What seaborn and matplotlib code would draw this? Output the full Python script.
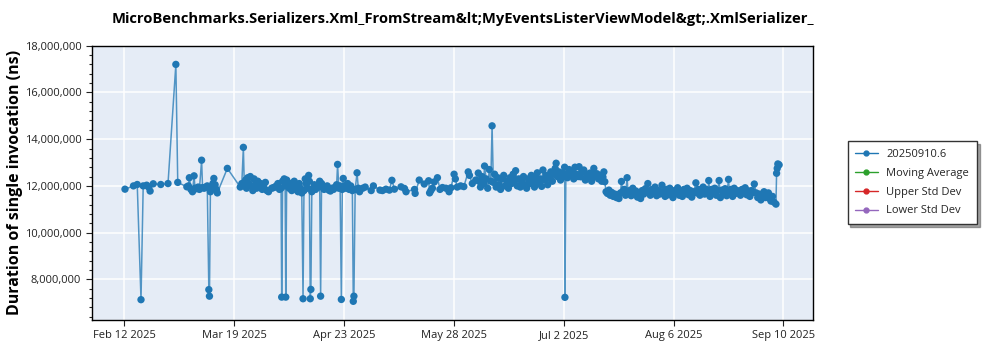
import numpy as np
import pandas as pd
import matplotlib
matplotlib.use('Agg')
import matplotlib.pyplot as plt
import matplotlib.dates as mdates
from matplotlib.ticker import MultipleLocator, FuncFormatter
import seaborn as sns

# day offsets from Feb 12 2025 and durations (millions of ns)
feb_days = [0.3, 3.0, 4.2, 5.4, 6.1, 7.2, 7.8, 8.3, 9.3, 11.7, 14.0, 16.5, 17.1,
            20.0, 20.5, 20.8, 21.3, 21.8, 22.3, 22.6, 23.0, 23.6, 24.0, 24.7, 25.0,
            25.5, 26.0, 26.5, 27.0, 27.2, 27.5, 28.0, 28.3, 28.6, 29.0, 29.4, 29.7, 32.9]
feb_vals = [11.86, 12.0, 12.06, 7.13, 12.0, 12.03, 11.95, 11.78, 12.09, 12.06, 12.1, 17.2, 12.15,
            11.96, 12.0, 12.35, 11.85, 11.75, 12.43, 11.9, 11.88, 11.95, 11.85, 13.1, 11.93,
            11.9, 11.95, 12.0, 7.56, 7.28, 11.75, 11.9, 12.1, 12.32, 12.05, 11.85, 11.7, 12.75]

mar_days = [37.0, 37.5, 38.0, 38.3, 38.7, 39.0, 39.4, 39.8, 40.2, 40.6, 41.0, 41.4, 41.8,
            42.2, 42.6, 43.0, 43.5, 44.0, 44.5, 45.0, 45.5, 46.0, 47.0, 47.5, 48.0, 48.5,
            49.0, 49.5, 50.0, 50.2, 50.5, 51.0, 51.3, 51.5, 51.8, 52.2, 52.6, 53.0, 53.4,
            53.8, 54.2, 54.6, 55.0, 55.4, 55.8, 56.2, 56.6, 57.0, 57.3, 57.7, 58.0, 58.4,
            58.8, 59.0, 59.3, 59.5, 59.8, 60.2, 60.6, 61.0, 61.5, 62.0, 62.3, 62.6, 62.9,
            63.3, 63.7, 64.2, 64.7, 65.2, 65.7, 66.2, 66.7, 67.2, 67.7, 68.0, 68.4, 68.8,
            69.2, 69.5, 69.8, 70.2, 70.7, 71.2, 71.7, 72.2, 72.7, 73.0, 73.2, 73.6, 74.2, 74.6]
mar_vals = [11.95, 12.1, 13.65, 12.0, 12.25, 11.9, 12.35, 12.1, 12.4, 12.0, 11.8, 12.3, 12.05,
            11.9, 12.2, 11.95, 12.1, 11.85, 11.95, 12.15, 11.8, 11.75, 11.9, 11.92, 11.95, 12.0,
            12.1, 11.85, 11.9, 7.24, 12.2, 12.3, 12.0, 7.24, 12.25, 12.0, 11.9, 12.1, 11.8,
            11.95, 12.2, 11.85, 12.0, 11.75, 12.1, 11.9, 11.7, 7.17, 11.8, 12.3, 12.1, 11.9,
            12.45, 12.2, 7.17, 7.57, 11.75, 11.9, 12.05, 11.85, 12.0, 11.95, 12.2, 7.28, 12.1,
            12.0, 11.85, 11.9, 12.0, 11.82, 11.78, 11.9, 11.85, 11.95, 12.05, 12.92, 11.9, 12.0,
            7.14, 11.85, 12.32, 12.0, 11.9, 12.1, 11.85, 12.0, 11.8, 7.06, 7.28, 11.85, 12.56, 11.9]

may_days = [75.0, 76.0, 76.8, 78.7, 79.4, 81.5, 82.3, 83.4, 84.5, 85.3, 86.1, 88.2, 89.3,
            89.8, 92.5, 92.7, 94.0, 95.6, 97.0, 97.3, 97.7, 98.2, 98.8, 99.8, 100.6, 101.4,
            102.5, 103.5, 104.1, 105.1, 105.5, 106.1, 107.2, 108.2, 109.6, 110.0, 110.9, 112.0, 112.8]
may_vals = [11.75, 11.9, 11.95, 11.8, 12.0, 11.82, 11.8, 11.86, 11.82, 12.24, 11.86, 11.96, 11.89,
            11.75, 11.85, 11.68, 12.25, 12.08, 12.22, 11.7, 11.8, 11.9, 12.17, 12.35, 11.85, 11.93,
            11.9, 11.75, 11.92, 12.5, 12.3, 11.95, 12.0, 11.97, 12.6, 12.45, 12.1, 12.25, 12.55]

jun_days = [113.0, 113.5, 114.0, 114.5, 114.8, 115.3, 115.8, 116.3, 116.8, 117.2, 117.6, 118.0,
            118.5, 119.0, 119.5, 119.9, 120.4, 120.9, 121.4, 121.9, 122.4, 122.9, 123.4, 123.9,
            124.4, 124.7, 125.2, 125.7, 126.2, 126.7, 127.2, 127.7, 128.2, 128.7, 129.2, 129.7,
            130.2, 130.7, 131.2, 131.6, 132.1, 132.6, 133.0, 133.4, 133.9, 134.4, 134.9, 135.4,
            135.9, 136.4, 136.9, 137.3, 137.6, 138.0, 138.5, 139.0, 139.5, 140.0, 140.3, 140.4,
            140.7, 141.2, 141.7, 142.2, 142.7, 143.2, 143.6, 144.1, 144.6, 144.9, 145.4, 145.9,
            146.4, 146.9, 147.4, 147.9, 148.4, 148.9, 149.3, 149.6, 150.1, 150.6, 151.1, 151.6,
            152.1, 152.5, 152.8, 153.1]
jun_vals = [12.2, 11.95, 12.4, 12.1, 12.85, 12.3, 11.9, 12.7, 12.2, 14.57, 12.15, 12.5,
            11.95, 12.35, 12.05, 11.85, 12.3, 12.45, 12.0, 12.2, 11.9, 12.35, 12.1, 12.5,
            12.25, 12.65, 12.0, 12.3, 11.95, 12.15, 12.4, 12.05, 11.9, 12.3, 12.1, 12.45,
            12.2, 11.95, 12.35, 12.56, 12.1, 12.3, 11.98, 12.68, 12.25, 12.45, 12.05, 12.35,
            12.6, 12.2, 12.5, 12.75, 12.97, 12.4, 12.6, 12.25, 12.55, 12.4, 12.8, 7.23,
            12.5, 12.35, 12.7, 12.45, 12.6, 12.3, 12.8, 12.5, 12.4, 12.82, 12.39, 12.6,
            12.68, 12.25, 12.5, 12.35, 12.55, 12.2, 12.45, 12.75, 12.4, 12.52, 12.3, 12.45,
            12.2, 12.38, 12.6, 12.18]

jul_days = [153.5, 153.9, 154.4, 154.8, 155.3, 155.8, 156.3, 156.8, 157.3, 157.6, 158.1, 158.4,
            158.8, 159.3, 159.7, 160.2, 160.5, 161.0, 161.5, 162.0, 162.5, 163.0, 163.5, 164.0,
            164.5, 165.0, 165.5, 166.0, 166.8, 167.1, 167.6, 168.1, 168.6, 169.1, 169.6, 170.1,
            170.6, 171.3, 171.8, 172.3, 172.8, 173.3, 173.8, 174.3, 174.8, 175.3, 175.8, 176.3,
            176.8, 177.3, 177.8, 178.3, 178.8, 179.3, 179.8, 180.3, 180.8, 181.4, 182.1, 182.4,
            182.9, 183.4, 183.9, 184.4, 184.9, 185.4, 185.9, 186.2, 186.6, 187.1, 187.6, 188.1,
            188.6, 189.0, 189.5, 189.9, 190.4, 190.9, 191.4, 191.9, 192.5, 192.8, 193.3, 193.8,
            194.3, 194.8, 195.3, 195.8, 196.3, 196.8, 197.3, 197.8, 198.3, 198.8, 199.3, 199.8,
            200.3, 200.7, 201.3, 201.8, 202.3, 202.8, 203.3, 203.8, 204.3, 204.8, 205.2, 205.6,
            206.0, 206.5, 207.0, 207.6, 207.8, 208.0, 208.2, 208.6]
jul_vals = [11.75, 11.68, 11.82, 11.6, 11.72, 11.55, 11.65, 11.5, 11.62, 11.46, 11.7, 12.19,
            11.75, 11.85, 11.6, 12.35, 11.7, 11.8, 11.58, 11.9, 11.68, 11.78, 11.52, 11.7,
            11.46, 11.8, 11.65, 11.88, 12.1, 11.75, 11.6, 11.85, 11.7, 11.95, 11.58, 11.8,
            11.65, 12.03, 11.75, 11.55, 11.85, 11.62, 11.9, 11.7, 11.5, 11.8, 11.68, 11.92,
            11.6, 11.75, 11.55, 11.85, 11.7, 11.9, 11.62, 11.8, 11.52, 11.75, 12.13, 11.7,
            11.85, 11.6, 11.78, 11.95, 11.65, 11.85, 11.72, 12.23, 11.55, 11.85, 11.68, 11.9,
            11.6, 11.8, 12.23, 11.5, 11.82, 11.65, 11.88, 11.58, 12.28, 11.7, 11.85, 11.55,
            11.9, 11.68, 11.8, 11.75, 11.6, 11.85, 11.7, 11.92, 11.62, 11.78, 11.55, 11.8,
            11.72, 12.08, 11.7, 11.5, 11.65, 11.4, 11.6, 11.75, 11.5, 11.62, 11.7, 11.46,
            11.35, 11.55, 11.3, 11.22, 12.54, 12.75, 12.94, 12.9]

xtick_dates = ['2025-02-12', '2025-03-19', '2025-04-23', '2025-05-28',
               '2025-07-02', '2025-08-06', '2025-09-10']
series_names = ['20250910.6', 'Moving Average', 'Upper Std Dev', 'Lower Std Dev']
series_colors = ['#1f77b4', '#2ca02c', '#d62728', '#9467bd']

start = pd.Timestamp('2025-02-12')
days = np.concatenate([feb_days, mar_days, may_days, jun_days, jul_days])
vals = np.concatenate([feb_vals, mar_vals, may_vals, jun_vals, jul_vals]) * 1e6
df = pd.DataFrame({'date': start + pd.to_timedelta(days, unit='D'), 'ns': vals})

sns.set_style('darkgrid', {'axes.facecolor': '#E5ECF6', 'grid.color': 'white',
                           'axes.edgecolor': 'black'})
plt.rcParams['font.family'] = ['Open Sans', 'DejaVu Sans']

fig = plt.figure(figsize=(10, 3.5), dpi=100)
ax = fig.add_axes([0.0917, 0.0857, 0.721, 0.7837])

sns.lineplot(data=df, x='date', y='ns', ax=ax, color=series_colors[0], lw=1.1,
             alpha=0.75, estimator=None, sort=True)
sns.scatterplot(data=df, x='date', y='ns', ax=ax, color=series_colors[0], s=28,
                edgecolor='none', zorder=3)

ax.set_xlim(start - pd.Timedelta(days=10.3), start + pd.Timedelta(days=219.3))
ax.set_ylim(6.26e6, 18e6)

ax.set_xticks(pd.to_datetime(xtick_dates))
ax.xaxis.set_major_formatter(mdates.DateFormatter('%b %-d %Y'))
ax.yaxis.set_major_locator(MultipleLocator(2e6))
ax.yaxis.set_minor_locator(MultipleLocator(4e5))
ax.yaxis.set_major_formatter(FuncFormatter(lambda v, p: f'{v:,.0f}'))
ax.grid(True, which='major', color='white', lw=1.1)
ax.grid(False, which='minor')
ax.tick_params(axis='both', which='major', labelsize=8, colors='#222222', length=4,
               width=0.8, direction='out', left=True, bottom=True)
ax.tick_params(axis='y', which='minor', length=2.5, width=0.8, left=True)
ax.set_xlabel('')
ax.set_ylabel('')
for s in ax.spines.values():
    s.set_visible(True)
    s.set_color('black')
    s.set_linewidth(1)

fig.text(0.463, 0.946, 'MicroBenchmarks.Serializers.Xml_FromStream&lt;MyEventsListerViewModel&gt;.XmlSerializer_',
         ha='center', va='center', fontsize=10.6, fontweight='bold', color='black')
fig.text(0.015, 0.48, 'Duration of single invocation (ns)', rotation=90,
         ha='center', va='center', fontsize=11.5, fontweight='bold', color='black')

handles = [ax.plot([], [], marker='o', ms=3.5, lw=1, color=c)[0] for c in series_colors]
leg = fig.legend(handles, series_names, loc='upper left', bbox_to_anchor=(0.842, 0.612),
                 fontsize=8, frameon=True, fancybox=False, shadow=True, facecolor='white',
                 framealpha=1, edgecolor='#333333', borderpad=0.7, labelspacing=0.7,
                 handlelength=2)
leg.get_frame().set_linewidth(1)

fig.savefig('out.png', dpi=100)
